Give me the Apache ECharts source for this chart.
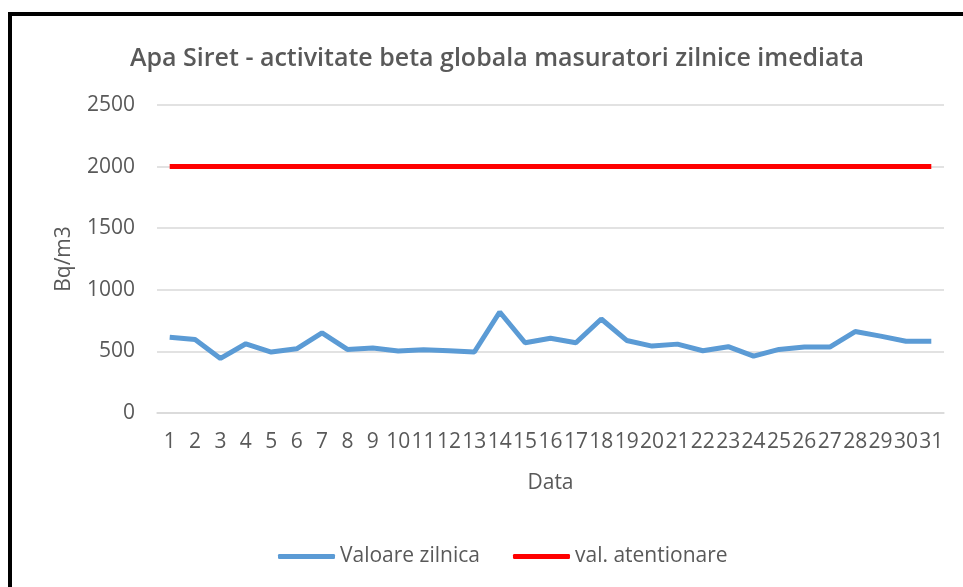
<!DOCTYPE html>
<html>
<head>
<meta charset="utf-8">
<script src="https://cdn.jsdelivr.net/npm/echarts@6/dist/echarts.min.js"></script>
<style>
  html, body { margin: 0; padding: 0; background: #fff; }
  #chart { width: 963px; height: 587px; }
</style>
</head>
<body>
<div id="chart"></div>
<script>
// zilele lunii
var days = [];
for (var d = 1; d <= 31; d++) days.push(String(d));

var valoareZilnica = [615, 597, 443, 562, 495, 521, 651, 516, 527, 503, 513, 505, 495, 820,
  570, 607, 570, 763, 589, 543, 559, 505, 538, 462, 516, 535, 535, 661, 624, 583, 583];
var valAtentionare = [2000, 2000, 2000, 2000, 2000, 2000, 2000, 2000, 2000, 2000, 2000, 2000, 2000, 2000,
  2000, 2000, 2000, 2000, 2000, 2000, 2000, 2000, 2000, 2000, 2000, 2000, 2000, 2000, 2000, 2000, 2000];

var textColor = '#595959';
var fontFamily = 'Open Sans';

var chart = echarts.init(document.getElementById('chart'));
var option = {
  backgroundColor: '#fff',
  animation: false,
  textStyle: { fontFamily: fontFamily },
  title: {
    text: 'Apa Siret - activitate beta globala masuratori zilnice imediata',
    left: 125,
    top: 41,
    textStyle: { color: textColor, fontSize: 25, fontWeight: 600, fontFamily: fontFamily }
  },
  legend: {
    left: 273,
    top: 541,
    icon: 'roundRect',
    itemWidth: 57,
    itemHeight: 5,
    itemGap: 33,
    data: ['Valoare zilnica', 'val. atentionare'],
    textStyle: { color: textColor, fontSize: 21, fontFamily: fontFamily }
  },
  grid: {
    left: 157,
    right: 19,
    top: 105,
    bottom: 174
  },
  xAxis: {
    type: 'category',
    data: days,
    boundaryGap: true,
    name: 'Data',
    nameLocation: 'middle',
    nameGap: 60,
    nameTextStyle: { color: textColor, fontSize: 21 },
    axisLine: { lineStyle: { color: '#d9d9d9', width: 1.5 } },
    axisTick: { show: false },
    axisLabel: { color: textColor, fontSize: 21, margin: 19, interval: 0 }
  },
  yAxis: {
    type: 'value',
    min: 0,
    max: 2500,
    interval: 500,
    name: 'Bq/m3',
    nameLocation: 'middle',
    nameGap: 82,
    nameTextStyle: { color: textColor, fontSize: 21 },
    axisLine: { show: false },
    axisTick: { show: false },
    axisLabel: { color: textColor, fontSize: 21, margin: 22, formatter: function (v) { return String(v); } },
    splitLine: { lineStyle: { color: '#d9d9d9', width: 1.5 } }
  },
  series: [
    {
      name: 'Valoare zilnica',
      type: 'line',
      symbol: 'none',
      color: '#5b9bd5',
      lineStyle: { width: 5, color: '#5b9bd5' },
      data: valoareZilnica
    },
    {
      name: 'val. atentionare',
      type: 'line',
      symbol: 'none',
      color: '#ff0000',
      lineStyle: { width: 5, color: '#ff0000' },
      data: valAtentionare
    }
  ],
  // rama neagra stanga-sus
  graphic: [
    { type: 'line', shape: { x1: 8, y1: 14, x2: 963, y2: 14 }, style: { stroke: '#000', lineWidth: 4 } },
    { type: 'line', shape: { x1: 10, y1: 12, x2: 10, y2: 587 }, style: { stroke: '#000', lineWidth: 4 } }
  ]
};
chart.setOption(option);
</script>
</body>
</html>
